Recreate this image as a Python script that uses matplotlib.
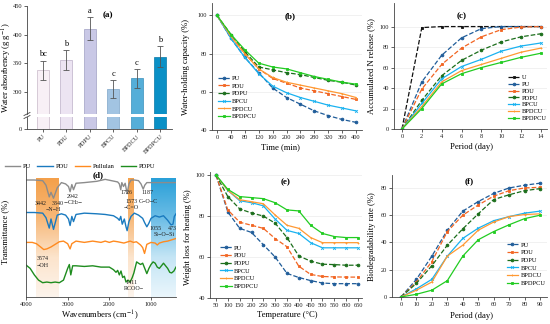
import numpy as np
import matplotlib
matplotlib.use('Agg')
import matplotlib.pyplot as plt
from matplotlib.colors import LinearSegmentedColormap

plt.rcParams['font.family'] = 'Liberation Serif'
plt.rcParams['mathtext.fontset'] = 'stix'

# --- (a) absorbencia ---
amostras = ['PU', 'PDU', 'PDPU', 'BPCU', 'BPDCU', 'BPDPCU']
absorbencia = [338, 356, 410, 305, 324, 362]
absorbencia_err = [17, 17, 20, 16, 16, 18]
letras = ['bc', 'b', 'a', 'c', 'c', 'b']

# --- (b) retencao de agua ---
tempo_min = [0, 40, 80, 120, 160, 200, 240, 280, 320, 360, 400]
retencao = {
    'PU': [100, 88, 78, 70, 62, 57, 53.5, 50, 47.5, 45.5, 44],
    'PDU': [100, 89, 80, 72, 67, 64.5, 62, 60.5, 59, 57.5, 56],
    'PDPU': [100, 90, 81, 73, 71.5, 70, 69, 67.5, 66, 65, 63.5],
    'BPCU': [100, 88, 78, 69.5, 63, 59.5, 57, 55, 53, 51.5, 50],
    'BPDCU': [100, 89, 80, 72, 67.5, 65, 63.5, 62, 60.5, 59, 57],
    'BPDPCU': [100, 90, 82, 75, 73, 72, 70, 68, 66.5, 65, 64],
}

# --- (c) liberacao de N ---
periodo_c = [0, 2, 4, 6, 8, 10, 12, 14]
liberacao = {
    'U': [0, 99, 100, 100, 100, 100, 100, 100],
    'PU': [0, 46, 72, 89, 98, 100, 100, 100],
    'PDU': [0, 39, 63, 79, 90, 97, 99.5, 100],
    'PDPU': [0, 28, 52, 67, 77, 85, 90, 93],
    'BPCU': [0, 25, 49, 61, 68, 76, 81, 84],
    'BPDCU': [0, 22, 46, 57, 63, 69, 75, 79],
    'BPDPCU': [0, 20, 44, 54, 60, 65, 70, 74],
}

# --- (d) FTIR (deslocado) ---
pu_wn = [4000, 3800, 3600, 3520, 3442, 3400, 3340, 3250, 3150, 3050, 2980, 2942, 2900, 2860, 2800,
         2600, 2300, 2100, 1950, 1800, 1760, 1726, 1700, 1660, 1620, 1573, 1530, 1480, 1400, 1300,
         1240, 1187, 1150, 1100, 1000, 800, 600, 400]
pu_t = [90, 90, 89.5, 86, 77, 80.5, 76, 84, 88, 87, 85, 81, 86.5, 82.5, 87.5,
        88, 89, 90.5, 89.5, 88.5, 87, 82.5, 88, 85, 87.5, 79.5, 87, 90, 90, 89.5,
        87, 83, 86, 88, 88, 88, 88, 88]
pdu_wn = [4000, 3800, 3600, 3520, 3442, 3400, 3340, 3250, 3150, 3050, 2980, 2942, 2900, 2860, 2800,
          2600, 2300, 2100, 1900, 1800, 1760, 1726, 1690, 1640, 1600, 1573, 1530, 1480, 1400, 1300,
          1200, 1150, 1100, 1055, 1000, 900, 800, 700, 600, 520, 473, 440, 400]
pdu_t = [65, 65, 64.5, 61, 53, 60, 52, 63, 64, 63, 60, 55, 62, 58, 63.5,
         64.5, 64, 63.5, 62.5, 60.5, 59, 62, 56, 60, 54, 51, 58, 62, 64.5, 63,
         60.5, 57, 54, 56.5, 60.5, 62.5, 61.5, 62.5, 59, 55.5, 56, 62, 64]
pul_wn = [4000, 3850, 3750, 3650, 3574, 3500, 3400, 3300, 3200, 3100, 3000, 2942, 2900, 2800, 2600,
          2400, 2200, 2100, 2000, 1900, 1800, 1650, 1500, 1420, 1350, 1250, 1200, 1155, 1100, 1000,
          900, 850, 800, 700, 600, 500, 400]
pul_t = [42, 42, 41, 38.5, 36.5, 37, 38.5, 40.5, 42.5, 43, 41, 37, 41, 43, 42,
         43, 42, 43, 42, 43, 42.5, 41.5, 43, 42, 42.5, 40, 38, 33.5, 40.5, 42,
         41.5, 40, 41.5, 42.5, 43, 44, 45]
pdpu_wn = [4000, 3900, 3800, 3700, 3600, 3500, 3400, 3300, 3200, 3100, 3000, 2960, 2925, 2880, 2800,
           2600, 2400, 2200, 2000, 1900, 1840, 1800, 1760, 1720, 1680, 1640, 1600, 1553, 1500, 1450,
           1411, 1345, 1300, 1250, 1200, 1150, 1100, 1050, 1000, 950, 900, 850, 800, 750, 700,
           650, 600, 550, 506, 450, 400]
pdpu_t = [24.6, 22, 17, 13, 11, 11.5, 11, 11.5, 11, 13, 22, 25, 17, 24, 24,
          23.5, 24, 23, 23, 21, 19, 20.5, 17, 20, 15, 16, 11.5, 13, 11.5, 15,
          18.5, 27, 26, 25, 26, 22, 18, 22, 25, 27, 26, 23, 22, 24, 26,
          24, 22, 19, 18.5, 20, 23]

# --- (e) perda de massa ---
temperatura = [50, 100, 150, 200, 250, 300, 350, 400, 450, 500, 550, 600, 650]
perda_massa = {
    'PU': [100, 82, 74, 72, 66, 60, 52, 50, 48.5, 47.3, 47, 47, 47],
    'PDU': [100, 83, 77, 75.5, 74, 69, 65, 55.5, 51.5, 50.5, 50.3, 50.2, 50.2],
    'PDPU': [100, 89.5, 83.5, 81.5, 80, 76.5, 69.5, 60.5, 58, 56.5, 56.3, 56, 56],
    'BPCU': [100, 92.5, 87.5, 86.5, 85, 78.5, 73, 71.5, 67, 64.5, 64.5, 64.5, 64.5],
    'BPDCU': [100, 92.5, 88, 87, 86, 80.5, 75.5, 74, 69.5, 67, 67, 67, 67],
    'BPDPCU': [100, 93, 89.5, 89, 88.5, 86.5, 83, 82.5, 75.5, 71.5, 70, 69.5, 69.5],
}

# --- (f) biodegradabilidade ---
periodo_f = [0, 10, 20, 30, 40, 50, 60, 70, 80, 90]
biodeg = {
    'PU': [0, 13, 30, 49, 63, 70, 76, 80, 82, 83.5],
    'PDU': [0, 11, 26, 48, 60, 67.5, 74, 78, 80, 80.5],
    'PDPU': [0, 10, 23, 38, 50, 61, 71.5, 75, 78, 79.5],
    'BPCU': [0, 6, 13, 30, 43, 50.5, 56, 59, 61.5, 63],
    'BPDCU': [0, 5, 11, 30, 38, 49, 55, 59, 60.5, 61],
    'BPDPCU': [0, 2, 5, 12, 30, 42, 48, 53, 57.5, 60],
}

estilos = {
    'U': ('#111111', '--', 's'),
    'PU': ('#1f5c99', '--', 'o'),
    'PDU': ('#f26522', '--', 's'),
    'PDPU': ('#1b6e1b', '--', 'o'),
    'BPCU': ('#1ab2f0', '-', 'x'),
    'BPDCU': ('#ff9933', '-', '+'),
    'BPDPCU': ('#22cc22', '-', 's'),
}

W, H = 550, 324
fig = plt.figure(figsize=(5.5, 3.24), dpi=100)
FS_TICK = 4.6
FS_LAB = 6.2
FS_LEG = 4.6


def ax_px(l, t, r, b):
    return fig.add_axes([l / W, 1 - b / H, (r - l) / W, (b - t) / H])


def estilo_eixo(ax):
    for s in ['top', 'right']:
        ax.spines[s].set_visible(False)
    for s in ['left', 'bottom']:
        ax.spines[s].set_linewidth(0.6)
        ax.spines[s].set_color('#444444')
    ax.tick_params(labelsize=FS_TICK, length=2, width=0.5, pad=1.5, colors='#222222')


def painel_linhas(ax, x, dados, xt, yt, xlim, ylim, leg_pos, lsp=0.35):
    estilo_eixo(ax)
    for nome, y in dados.items():
        c, ls, m = estilos[nome]
        ax.plot(x, y, color=c, ls=ls, marker=m, ms=2.0, lw=0.9, mew=0.6, label=nome)
    ax.set_xticks(xt)
    ax.set_yticks(yt)
    ax.set_xlim(*xlim)
    ax.set_ylim(*ylim)
    ax.grid(axis='y', color='#ebebeb', lw=0.5)
    ax.set_axisbelow(True)
    ax.legend(loc='upper left', bbox_to_anchor=leg_pos, frameon=False, fontsize=FS_LEG,
              handlelength=1.8, labelspacing=lsp, borderpad=0, borderaxespad=0,
              handletextpad=0.4)


# ---------------- (a) ----------------
cores_barra = ['#f8f0f6', '#ece4f2', '#c9c8e6', '#a2c4e2', '#55aed8', '#0a90c6']
bordas = ['#c8b8c8', '#bcb0c8', '#a0a0c4', '#7ea6c8', '#3a90bc', '#0878a8']
ax_top = ax_px(27, 6, 172, 114)
ax_bot = ax_px(27, 117, 172, 129)
xb = np.arange(len(amostras))
for ax in (ax_top, ax_bot):
    ax.bar(xb, absorbencia, width=0.52, color=cores_barra, edgecolor=bordas, lw=0.5)
    ax.set_xlim(-0.68, 5.51)
    estilo_eixo(ax)
ax_top.errorbar(xb, absorbencia, yerr=absorbencia_err, fmt='none', ecolor='#555555',
                elinewidth=0.6, capsize=2.5, capthick=0.6)
for xi, v, e, l in zip(xb, absorbencia, absorbencia_err, letras):
    ax_top.text(xi, v + e + 4, l, ha='center', va='bottom', fontsize=6)
ax_top.set_ylim(262, 450)
ax_top.set_yticks([300, 350, 400, 450])
ax_top.spines['bottom'].set_visible(False)
ax_top.set_xticks([])
ax_bot.set_ylim(0, 21)
ax_bot.set_yticks([0])
ax_bot.set_xticks(xb, amostras, rotation=45, ha='right', rotation_mode='anchor')
ax_top.text(0.56, 0.9, '(a)', transform=ax_top.transAxes, fontsize=6.5, fontweight='bold',
            ha='center')
# marcas de quebra
for yy in (114, 117):
    fig.add_artist(plt.Line2D([24 / W, 30 / W], [1 - (yy + 1.5) / H, 1 - (yy - 1.5) / H],
                              color='#444444', lw=0.6))
fig.text(7 / W, 1 - 68 / H, 'Water absorbency (g g$^{-1}$)', rotation=90, ha='center',
         va='center', fontsize=FS_LAB)

# ---------------- (b) ----------------
ax_b = ax_px(212, 3, 362, 130)
painel_linhas(ax_b, tempo_min, retencao, tempo_min, [40, 60, 80, 100], (-14.4, 417), (40, 106.5),
              (0.04, 0.43))
ax_b.text(0.52, 0.88, '(b)', transform=ax_b.transAxes, fontsize=6.5, fontweight='bold',
          ha='center')
fig.text(186 / W, 1 - 67 / H, 'Water-holding capacity (%)', rotation=90, ha='center', va='center',
         fontsize=FS_LAB)
fig.text(280 / W, 1 - 147 / H, 'Time (min)', ha='center', va='center', fontsize=FS_LAB)

# ---------------- (c) ----------------
ax_c = ax_px(394, 3, 547, 129)
painel_linhas(ax_c, periodo_c, liberacao, periodo_c, [0, 20, 40, 60, 80, 100], (-0.8, 14.6),
              (0, 123), (0.745, 0.43), lsp=0.2)
ax_c.text(0.44, 0.88, '(c)', transform=ax_c.transAxes, fontsize=6.5, fontweight='bold',
          ha='center')
fig.text(371 / W, 1 - 66 / H, 'Accumulated N release (%)', rotation=90, ha='center', va='center',
         fontsize=FS_LAB)
fig.text(472 / W, 1 - 147 / H, 'Period (day)', ha='center', va='center', fontsize=FS_LAB)

# ---------------- (d) ----------------
ax_d = ax_px(26, 167, 176, 297)
estilo_eixo(ax_d)
cm_lar = LinearSegmentedColormap.from_list('lar', ['#fdf4ec', '#fce4cc', '#f7b878', '#f4a04a'])
cm_az = LinearSegmentedColormap.from_list('az', ['#eaf6fc', '#c4e5f5', '#6cbde6', '#2aa0d8'])
grad = np.linspace(0, 1, 200).reshape(-1, 1)
for (x0, x1), cm in [((3760, 3210), cm_lar), ((1540, 1400), cm_lar), ((1010, 420), cm_az)]:
    ax_d.imshow(grad, extent=(x0, x1, 0, 91), origin='lower', aspect='auto', cmap=cm, zorder=0)
ax_d.plot(pu_wn, pu_t, color='#8c8c8c', lw=1.0, label='PU')
ax_d.plot(pdu_wn, pdu_t, color='#1a7abf', lw=1.0, label='PDU')
ax_d.plot(pul_wn, pul_t, color='#ff8a1f', lw=1.0, label='Pullulan')
ax_d.plot(pdpu_wn, pdpu_t, color='#1e8c1e', lw=1.0, label='PDPU')
ax_d.set_xlim(4000, 400)
ax_d.set_ylim(0, 100)
ax_d.set_yticks([])
ax_d.set_xticks([4000, 3000, 2000, 1000])
ax_d.legend(loc='lower center', bbox_to_anchor=(0.36, 0.985), ncol=4, frameon=False,
            fontsize=FS_LEG, handlelength=2.4, columnspacing=1.0, handletextpad=0.4, borderpad=0,
            borderaxespad=0)
ax_d.text(2260, 94, '(d)', fontsize=6.5, fontweight='bold', ha='center', va='center')
anot = [(3640, 72.3, '3442'), (3240, 72.3, '3340'), (3352, 67, '−N−H'), (2872, 77, '2942'),
        (2872, 72.3, '$-$CH$_2$$-$'), (1600, 80, '1726'), (1470, 73.8, '1573'),
        (1480, 69.2, '−C=O'), (1080, 80, '1187'), (1060, 73.8, 'C−O−C'), (880, 53, '1055'),
        (496, 53, '473'), (688, 47.7, 'Si−O−Si'), (3592, 30, '3574'), (3592, 24.6, '−OH'),
        (1456, 10.8, '1411'), (1408, 6.9, 'RCOO−')]
for xa, ya, s in anot:
    ax_d.text(xa, ya, s, fontsize=4.3, ha='center', va='center', color='#222222')
fig.text(5 / W, 1 - 232 / H, 'Transmittance (%)', rotation=90, ha='center', va='center',
         fontsize=FS_LAB)
fig.text(100 / W, 1 - 315 / H, 'Wavenumbers (cm$^{-1}$)', ha='center', va='center',
         fontsize=FS_LAB)

# ---------------- (e) ----------------
ax_e = ax_px(210, 172, 362, 298)
painel_linhas(ax_e, temperatura, perda_massa, temperatura, [40, 60, 80, 100], (24.6, 667),
              (40, 101.5), (0.066, 0.42))
ax_e.text(0.5, 0.9, '(e)', transform=ax_e.transAxes, fontsize=6.5, fontweight='bold', ha='center')
fig.text(188 / W, 1 - 237 / H, 'Weight loss for heating (%)', rotation=90, ha='center',
         va='center', fontsize=FS_LAB)
fig.text(287 / W, 1 - 315 / H, 'Temperature (°C)', ha='center', va='center', fontsize=FS_LAB)

# ---------------- (f) ----------------
ax_f = ax_px(392, 175, 547, 297)
painel_linhas(ax_f, periodo_f, biodeg, periodo_f, [0, 20, 40, 60, 80], (-5.8, 94.5), (0, 89.5),
              (0.74, 0.45))
ax_f.text(0.5, 0.93, '(f)', transform=ax_f.transAxes, fontsize=6.5, fontweight='bold', ha='center')
fig.text(372 / W, 1 - 237 / H, 'Biodegradability rate (%)', rotation=90, ha='center', va='center',
         fontsize=FS_LAB)
fig.text(472 / W, 1 - 316 / H, 'Period (day)', ha='center', va='center', fontsize=FS_LAB)

fig.savefig('out.png', dpi=100)
